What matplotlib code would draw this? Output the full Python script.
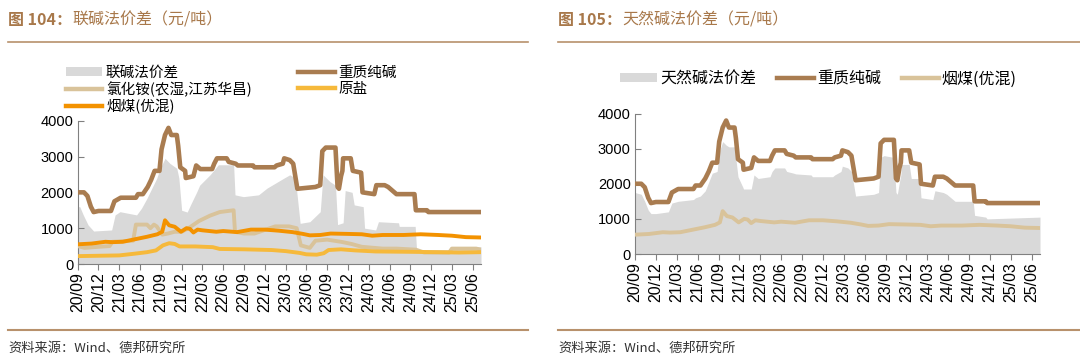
import matplotlib
matplotlib.use('Agg')
import matplotlib.pyplot as plt
from matplotlib.patches import Patch
from matplotlib.lines import Line2D

plt.rcParams['font.family'] = ['Noto Sans CJK SC', 'DejaVu Sans']

# ---------------- data (x = months since 2020-09) ----------------
tick_labels = ['20/09', '20/12', '21/03', '21/06', '21/09', '21/12', '22/03', '22/06',
               '22/09', '22/12', '23/03', '23/06', '23/09', '23/12', '24/03', '24/06',
               '24/09', '24/12', '25/03', '25/06']
tick_months = [3 * i for i in range(len(tick_labels))]
x_end = 58.2

# 重质纯碱
soda_m = [0, 0.9, 1.4, 1.9, 2.3, 3.0, 4.8, 5.3, 6.2, 8.4, 8.7, 9.4, 10.1, 10.6, 11.1, 11.8,
          12.1, 12.6, 13.1, 13.5, 14.3, 14.5, 14.8, 15.5, 15.6, 16.7, 17.1, 17.7, 19.4, 19.7,
          20.1, 21.5, 21.8, 22.8, 23.1, 25.3, 25.5, 28.4, 28.7, 29.6, 29.8, 30.6, 31.1, 31.7,
          34.3, 35.0, 35.3, 35.8, 37.2, 37.5, 37.7, 38.0, 38.2, 38.3, 39.4, 39.7, 40.9, 41.1,
          42.8, 43.1, 44.3, 44.8, 46.0, 48.6, 48.8, 50.4, 50.6, 58.2]
soda_v = [2000, 2000, 1900, 1600, 1450, 1480, 1480, 1750, 1850, 1850, 1950, 1950, 2150, 2350,
          2600, 2600, 3200, 3600, 3800, 3600, 3600, 3300, 2700, 2600, 2400, 2450, 2750, 2650,
          2650, 2800, 2950, 2950, 2850, 2800, 2750, 2750, 2700, 2700, 2750, 2800, 2950, 2900,
          2800, 2100, 2150, 2200, 3150, 3250, 3250, 2150, 2100, 2450, 2600, 2950, 2950, 2600,
          2550, 2000, 1950, 2200, 2200, 2150, 1950, 1950, 1500, 1500, 1450, 1450]

# 天然碱法价差
nat_m = soda_m
nat_v = [1750, 1700, 1500, 1250, 1150, 1150, 1200, 1450, 1500, 1550, 1600, 1650, 1800, 2050,
         2300, 2350, 2900, 3200, 3100, 3050, 3050, 2700, 2200, 1900, 1850, 1850, 2250, 2150,
         2200, 2350, 2450, 2450, 2350, 2300, 2280, 2250, 2200, 2200, 2250, 2350, 2500, 2450,
         2350, 1650, 1700, 1750, 2750, 2800, 2750, 1750, 1700, 2050, 2250, 2550, 2550, 2150,
         2150, 1600, 1550, 1800, 1750, 1700, 1500, 1500, 1100, 1050, 1000, 1050]

# 联碱法价差
ammsp_m = [0, 0.3, 0.8, 1.5, 2.3, 4.9, 5.4, 6.1, 8.5, 9.2, 10.0, 10.7, 11.4, 11.9, 12.6, 13.3,
           14.3, 14.6, 15.0, 15.8, 16.4, 17.2, 17.6, 19.1, 20.3, 22.5, 22.7, 23.9, 26.1, 27.3,
           29.7, 30.6, 31.4, 32.1, 33.5, 35.0, 35.4, 36.4, 37.2, 37.5, 38.3, 38.6, 39.6, 39.9,
           41.2, 41.4, 43.0, 43.4, 46.3, 46.4, 48.7, 48.9, 53.6, 53.8, 58.2]
ammsp_v = [1600, 1600, 1370, 1090, 920, 950, 1370, 1460, 1370, 1555, 1835, 2115, 2390, 2670,
           2950, 2810, 2670, 2400, 1500, 1450, 1700, 2020, 2200, 2490, 2770, 2770, 1930, 1880,
           1930, 2115, 2390, 2490, 2400, 1135, 1180, 1460, 2490, 2300, 2200, 1100, 1150, 2050,
           2000, 1650, 1600, 1000, 950, 1180, 1150, 1050, 1050, 400, 400, 480, 480]

# 氯化铵(农湿,江苏华昌)
nh4cl_m = [0, 1.0, 3.0, 4.6, 5.0, 8.0, 8.4, 10.0, 10.5, 11.0, 11.4, 12.2, 13.0, 14.0, 15.0,
           16.0, 17.5, 19.1, 20.5, 22.5, 22.7, 24.0, 25.5, 27.0, 28.5, 30.5, 31.6, 32.2, 33.5,
           34.3, 36.0, 38.0, 39.5, 41.0, 44.0, 46.0, 48.8, 50.0, 53.6, 54.0, 57.5, 58.2]
nh4cl_v = [500, 450, 480, 500, 620, 650, 1100, 1100, 1000, 1100, 1050, 820, 850, 900, 900,
           1000, 1200, 1350, 1450, 1500, 900, 850, 850, 950, 1050, 1050, 1000, 520, 450, 650,
           680, 620, 560, 480, 430, 430, 400, 320, 320, 430, 430, 400]

# 原盐
salt_m = [0, 6, 8.3, 10.0, 11.3, 12.3, 13.2, 14.0, 14.7, 17.0, 19.5, 20.5, 24.0, 28.0, 30.0,
          32.0, 33.0, 34.5, 35.5, 36.2, 38.0, 40.0, 43.0, 48.0, 52.0, 55.0, 58.2]
salt_v = [220, 240, 290, 330, 380, 520, 580, 560, 490, 490, 470, 420, 410, 390, 360, 310, 270,
          260, 300, 390, 410, 380, 350, 340, 330, 320, 330]

# 烟煤(优混)
coal_m = [0, 2.0, 4.0, 5.0, 6.5, 8.0, 10.0, 11.5, 12.2, 12.6, 13.2, 14.0, 14.9, 15.7, 16.2,
          16.7, 17.3, 18.0, 20.0, 21.0, 23.0, 25.0, 27.0, 29.0, 31.0, 32.5, 33.5, 35.0, 36.5,
          39.0, 41.0, 42.5, 44.0, 47.0, 49.5, 52.0, 54.0, 56.0, 58.2]
coal_v = [550, 570, 620, 610, 620, 680, 760, 830, 900, 1220, 1080, 1040, 900, 1000, 980, 880,
          960, 940, 900, 920, 890, 960, 960, 930, 890, 840, 800, 810, 850, 840, 830, 790, 810,
          810, 830, 810, 790, 750, 740]

# ---------------- styles ----------------
C_GRAY = '#D9D9D9'
C_SODA = '#A97C50'
C_BEIGE = '#D9C39A'
C_SALT = '#F6B93B'
C_COAL = '#F39200'
C_TITLE = '#A8784A'
C_RULE = '#B8916C'
TICKFONT = ['Liberation Sans', 'DejaVu Sans']

W, H = 1080, 361
fig = plt.figure(figsize=(W / 100, H / 100), dpi=100)


def style_axes(ax):
    ax.set_xlim(0, x_end)
    ax.set_ylim(0, 4000)
    ax.set_yticks([0, 1000, 2000, 3000, 4000])
    ax.set_xticks(tick_months)
    ax.set_xticklabels(tick_labels, rotation=90, fontsize=11.5, family=TICKFONT)
    for lab in ax.get_yticklabels():
        lab.set_family(TICKFONT)
        lab.set_fontsize(10.5)
    ax.tick_params(axis='x', direction='out', length=4, width=0.8, color='#808080', pad=2)
    ax.tick_params(axis='y', direction='in', length=4, width=0.8, color='#808080', pad=3)
    for s in ['top', 'right']:
        ax.spines[s].set_visible(False)
    for s in ['left', 'bottom']:
        ax.spines[s].set_color('#808080')
        ax.spines[s].set_linewidth(0.8)


# ---------------- left chart ----------------
axL = fig.add_axes([77.7 / W, 97 / H, 403.3 / W, 143.3 / H])
axL.fill_between(ammsp_m, ammsp_v, 0, color=C_GRAY, lw=0, zorder=1)
axL.plot(soda_m, soda_v, color=C_SODA, lw=3.3, zorder=3)
axL.plot(nh4cl_m, nh4cl_v, color=C_BEIGE, lw=2.8, zorder=3)
axL.plot(salt_m, salt_v, color=C_SALT, lw=2.8, zorder=4)
axL.plot(coal_m, coal_v, color=C_COAL, lw=2.8, zorder=5)
style_axes(axL)

hL = [Patch(facecolor=C_GRAY, edgecolor='none'),
      Line2D([], [], color=C_BEIGE, lw=3.2),
      Line2D([], [], color=C_COAL, lw=3.2),
      Line2D([], [], color=C_SODA, lw=3.2),
      Line2D([], [], color=C_SALT, lw=3.2)]
lL = ['联碱法价差', '氯化铵(农湿,江苏华昌)', '烟煤(优混)', '重质纯碱', '原盐']
fig.legend(hL, lL, ncol=2, loc='upper left', bbox_to_anchor=(60 / W, 1 - 60 / H),
           frameon=False, fontsize=10.5, handlelength=2.5, handleheight=0.55,
           handletextpad=0.25, columnspacing=3.2, labelspacing=0.12, borderaxespad=0)

# ---------------- right chart ----------------
axR = fig.add_axes([635 / W, 107 / H, 405 / W, 140.5 / H])
axR.fill_between(nat_m, nat_v, 0, color=C_GRAY, lw=0, zorder=1)
axR.plot(soda_m, soda_v, color=C_SODA, lw=3.3, zorder=3)
axR.plot(coal_m, coal_v, color=C_BEIGE, lw=2.8, zorder=4)
style_axes(axR)

hR = [Patch(facecolor=C_GRAY, edgecolor='none'),
      Line2D([], [], color=C_SODA, lw=3.2),
      Line2D([], [], color=C_BEIGE, lw=3.2)]
lR = ['天然碱法价差', '重质纯碱', '烟煤(优混)']
fig.legend(hR, lR, ncol=3, loc='center left', bbox_to_anchor=(614 / W, 1 - 79 / H),
           frameon=False, fontsize=11.5, handlelength=2.3, handleheight=0.5,
           handletextpad=0.2, columnspacing=1.3, borderaxespad=0)

# ---------------- titles, rules, sources ----------------
for x0, x1, num, rest in [(8, 528, '图 104：', '联碱法价差（元/吨）'),
                          (558, 1080, '图 105：', '天然碱法价差（元/吨）')]:
    t = fig.text(x0 / W, 1 - 20 / H, num, color=C_TITLE, fontsize=11.5, fontweight='bold',
                 va='center', ha='left')
    fig.canvas.draw()
    bb = t.get_window_extent()
    fig.text(bb.x1 / W, 1 - 20 / H, rest, color=C_TITLE, fontsize=11.5, va='center', ha='left')
    fig.add_artist(Line2D([x0 / W, x1 / W], [1 - 42 / H, 1 - 42 / H], color=C_RULE, lw=1.2))
    fig.add_artist(Line2D([x0 / W, x1 / W], [1 - 330 / H, 1 - 330 / H], color=C_RULE, lw=1.5))
    fig.text(x0 / W, 1 - 348 / H, '资料来源：Wind、德邦研究所', color='#333333', fontsize=9.5,
             va='center', ha='left')

fig.savefig('out.png', dpi=100)
